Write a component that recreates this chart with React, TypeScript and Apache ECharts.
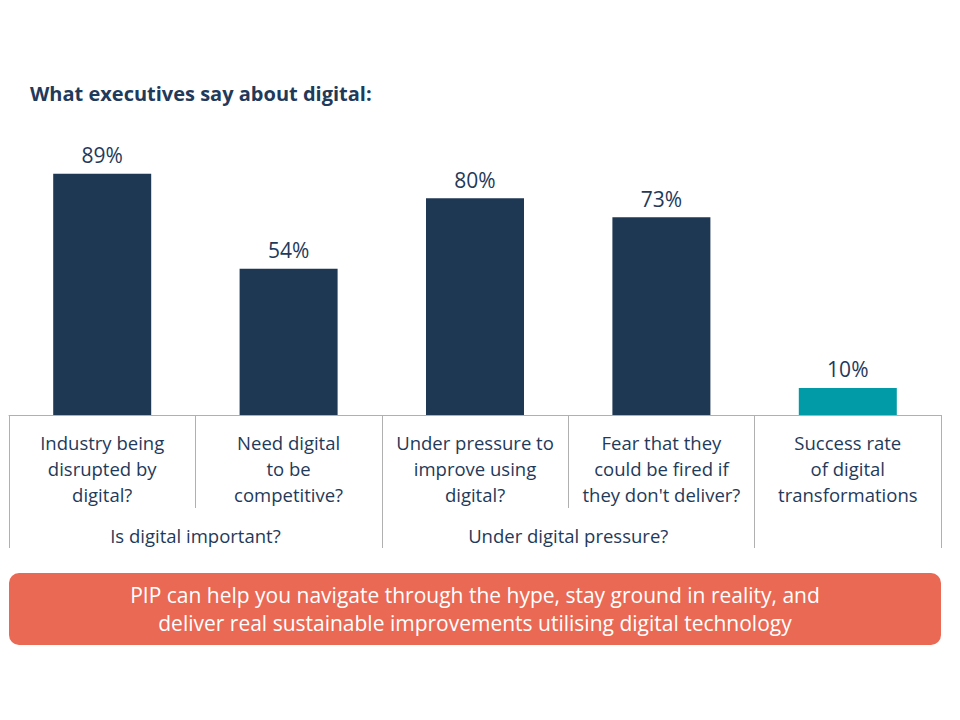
import React, { useEffect, useRef } from "react";
import * as echarts from "echarts";

const title = "What executives say about digital:";
const categories = [
  "Industry being\ndisrupted by\ndigital?",
  "Need digital\nto be\ncompetitive?",
  "Under pressure to\nimprove using\ndigital?",
  "Fear that they\ncould be fired if\nthey don't deliver?",
  "Success rate\nof digital\ntransformations",
];
const values = [89, 54, 80, 73, 10];
const groupNames = ["Is digital important?", "Under digital pressure?", ""];
const groupSpans = [2, 2, 1];
const bannerLines = [
  "PIP can help you navigate through the hype, stay ground in reality, and",
  "deliver real sustainable improvements utilising digital technology",
];

const NAVY = "#1E3753";
const TEAL = "#009BA6";
const TEXT = "#1F3A5A";
const GRAY = "#B0B0B0";
const FONT = "'Open Sans', Lato, sans-serif";

export default function App() {
  const ref = useRef<HTMLDivElement>(null);
  useEffect(() => {
    if (!ref.current) return;
    const chart = echarts.init(ref.current, undefined, { renderer: "svg" });
    const W = 960;
    const gridLeft = 9;
    const gridRight = 19;
    const gridTop = 144;
    const gridBottom = 305;
    const plotW = W - gridLeft - gridRight;
    const band = plotW / categories.length;
    const axisY = 720 - gridBottom;

    const groupStarts: number[] = [];
    let acc = 0;
    groupSpans.forEach((s) => {
      groupStarts.push(acc);
      acc += s;
    });

    const groupTexts = groupNames.map((name, i) => {
      const center = groupStarts[i] + groupSpans[i] / 2;
      return {
        type: "text",
        x: gridLeft + center * band,
        y: axisY + 120,
        style: {
          text: name,
          fill: TEXT,
          font: `18.5px ${FONT}`,
          align: "center",
          verticalAlign: "middle",
        },
      };
    });

    chart.setOption({
      animation: false,
      textStyle: { fontFamily: FONT },
      title: {
        text: title,
        left: 25,
        top: 78,
        textStyle: { color: TEXT, fontSize: 20, fontWeight: "bold", fontFamily: FONT },
      },
      grid: { left: gridLeft, right: gridRight, top: gridTop, bottom: gridBottom, containLabel: false },
      xAxis: [
        {
          type: "category",
          data: categories,
          axisLine: { show: true, lineStyle: { color: GRAY, width: 1 } },
          axisTick: { show: true, length: 93, lineStyle: { color: GRAY, width: 1 } },
          axisLabel: {
            interval: 0,
            color: TEXT,
            fontSize: 18.5,
            lineHeight: 26,
            margin: 14,
            fontFamily: FONT,
          },
        },
        {
          type: "category",
          data: categories,
          position: "bottom",
          axisLine: { show: false },
          axisTick: {
            show: true,
            length: 133,
            interval: (index: number) => groupStarts.includes(index),
            lineStyle: { color: GRAY, width: 1 },
          },
          axisLabel: { show: false },
        },
      ],
      yAxis: { type: "value", min: 0, max: 100, show: false },
      series: [
        {
          type: "bar",
          data: values.map((v, i) => ({
            value: v,
            itemStyle: { color: i === values.length - 1 ? TEAL : NAVY },
          })),
          barWidth: 98,
          label: {
            show: true,
            position: "top",
            distance: 8,
            formatter: "{c}%",
            color: TEXT,
            fontSize: 21,
            fontFamily: FONT,
          },
        },
      ],
      graphic: [
        ...groupTexts,
        {
          type: "rect",
          shape: { x: gridLeft, y: 573, width: plotW, height: 72, r: 10 },
          style: { fill: "#EA6954" },
        },
        {
          type: "text",
          x: gridLeft + plotW / 2,
          y: 609,
          style: {
            text: bannerLines.join("\n"),
            fill: "#FFFFFF",
            font: `21px ${FONT}`,
            lineHeight: 28,
            align: "center",
            verticalAlign: "middle",
          },
        },
      ],
    });
    return () => chart.dispose();
  }, []);
  return (
    <div
      ref={ref}
      style={{ position: "fixed", left: 0, top: 0, width: 960, height: 720, background: "#fff" }}
    />
  );
}
